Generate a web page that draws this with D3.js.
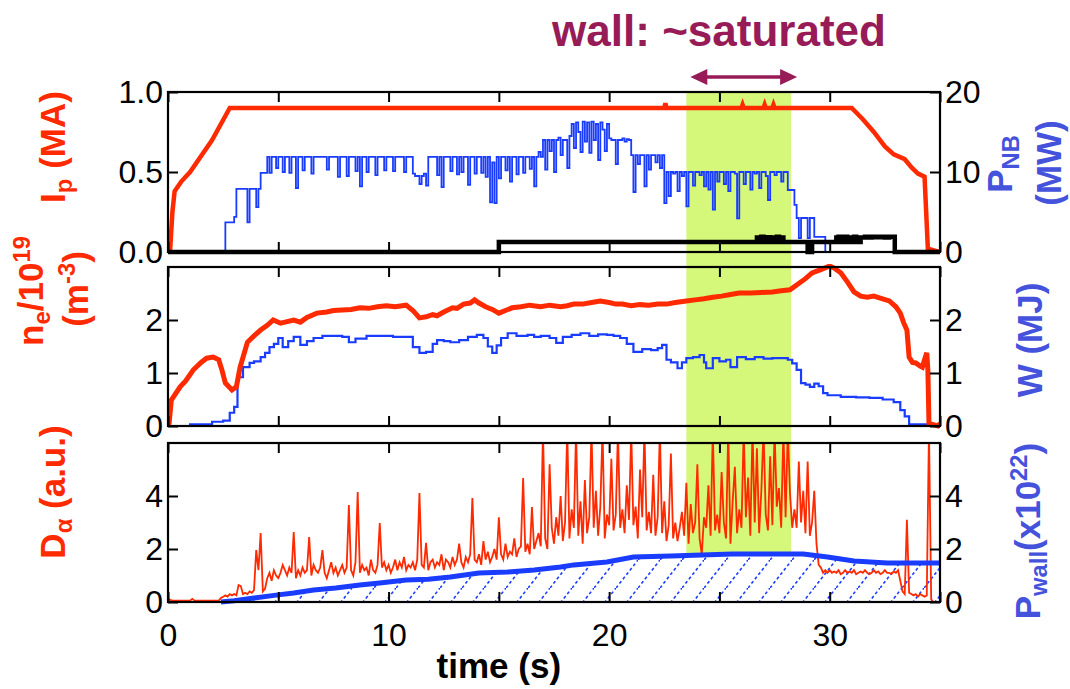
<!DOCTYPE html>
<html><head><meta charset="utf-8">
<script src="https://cdn.jsdelivr.net/npm/d3@7"></script>
<style>
body{margin:0;background:#fff}
svg text{font-family:"Liberation Sans",Arial,sans-serif}
</style>
</head><body>
<svg id="c" width="1070" height="689"></svg>
<script>
// ---------------- DATA ----------------
const timeTicksMajor = [0,10,20,30];
const timeTicksMinor = [0,5,10,15,20,25,30,35];
const ipTicks = [0,0.5,1.0];
const pnbTicks = [0,10,20];
const neTicks = [0,1,2];
const wTicks = [0,1,2];
const daTicks = [0,2,4];
const pwTicks = [0,2,4];
const satBand = [23.5, 28.25];
const titleText = "wall: ~saturated";

// plasma current Ip (MA) [t, value]
const ipData = [[0,0],[0.1,0.02],[0.2,0.25],[0.3,0.38],[0.6,0.44],[1.0,0.5],[2.0,0.7],[2.8,0.9],
 [22.5,0.9],[22.55,0.93],[22.6,0.9],[26.0,0.9],[26.05,0.92],[26.1,0.9],[27.0,0.9],[27.05,0.92],[27.1,0.9],
 [27.4,0.9],[27.45,0.92],[27.5,0.9],[31.0,0.9],[31.5,0.83],[32.0,0.75],[32.5,0.66],[32.9,0.61],[33.4,0.58],
 [33.7,0.53],[34.0,0.49],[34.3,0.47],[34.45,0.02],[35,0.0]];

// NBI power P_NB (MW), sampled every 0.1 s from t = 0
const pnbT0 = 0, pnbDt = 0.1;
const pnbValues = [
 0,0,0,0,0,0,0,0,0,0,
 0,0,0,0,0,0,0,0,0,0,
 0,0,0,0,0,0,3.7,3.7,3.7,3.7,
 4.4,7.9,7.9,7.9,7.9,7.9,3.7,7.9,7.9,7.9,
 5.6,7.9,9.9,9.9,9.9,11.9,9.9,11.9,11.9,10.5,
 11.9,11.9,10,11.9,11.9,9.9,11.9,11.9,8,11.9,
 11.9,10.2,11.9,11.9,11.9,9.8,11.9,11.9,11.9,11.9,
 11.9,11.9,10.3,11.9,11.9,11.9,11.9,9.4,11.9,11.9,
 11.9,9.5,11.9,11.9,11.9,10.1,11.9,8.2,11.9,11.9,
 10,11.9,11.9,11.9,9.6,11.9,11.9,11.9,10.2,11.9,
 11.9,11.9,10.1,11.9,11.9,11.9,11.9,10,11.9,11.9,
 11.9,9.8,9.5,9.5,8.5,9.5,9.8,8.3,11.9,11.9,
 11.9,11.9,9.6,11.9,8.1,11.9,11.9,11.9,10.1,11.9,
 11.9,9.7,11.9,10,11.9,11.9,8.4,11.9,11.9,9.8,
 11.9,11.9,9.9,11.9,9.4,11.9,6.2,11.2,6.1,11.9,
 9.2,11.9,11.9,10.2,11.9,8.8,11.9,11.9,9.7,11.9,
 11.9,9.9,11.9,11.9,10.4,11.9,8.2,11.9,12.5,11.9,
 14,10.3,14,12.6,14,10,14,14.3,12.1,14,
 14,10.5,14.5,16,13,16.2,15,12.5,16.3,13.8,
 16.2,12.4,16.3,14,16,11.5,16.2,15.3,12.6,16,
 14.2,14,14,11,14,14,14.2,13.8,14.1,14,
 12.1,7.5,12.1,11,12.1,12.1,8.2,12.1,10.3,12.1,
 12.1,11.2,12.1,10.5,12.1,6.1,10,7,10,9.8,
 10,7.6,10,9.5,10,5.7,10,10,8.3,10,
 10,9.6,10,8.2,10,7.8,10,5.3,10,8.8,
 10,10,8.5,10,7.6,10,10,9.8,4.2,10,
 10,8.5,10,10,7.8,10,9.8,10,8,10,
 10,9.5,6.5,10,10,9.6,10,10,8.8,10,
 10,7.75,7.75,7.75,5.9,4.25,1.75,4.25,4.25,4.25,
 1.75,4.25,4.25,1.9,1.9,1.9,1.9,1.9,0,0,
 0,0,0,0,0,0,0,0,0,0,
 0,0,0,0,0,0,0,0,0,0,
 0,0,0,0,0,0,0,0,0,0,
 0,0,0,0,0,0,0,0,0,0,
 0,0,0,0,0,0,0,0,0,0,
 0];

// black trace in top panel (MW, right axis) [t, value], step
const blackData = [[0,0],[15.0,1.25],[26.7,1.8],[26.8,1.25],[26.9,1.9],[27.0,1.6],[27.1,1.25],[27.2,1.85],
 [27.3,1.7],[27.4,1.25],[27.5,1.8],[27.6,1.9],[27.7,1.25],[27.8,1.8],[27.9,1.25],[29.0,0],[29.2,1.25],
 [30.3,1.8],[30.4,1.9],[30.5,1.25],[30.6,1.85],[30.7,1.9],[30.8,1.25],[31.0,1.8],[31.1,1.9],[31.2,1.25],
 [31.4,1.8],[31.6,1.9],[31.7,1.8],[31.9,1.9],[32.1,1.85],[32.3,1.9],[32.5,1.8],[32.7,1.9],[32.95,0],[35,0]];

// line-averaged density ne (10^19 m^-3) [t, value]
const neData = [[0,0],[0.05,0.05],[0.15,0.49],[0.55,0.74],[0.8,0.85],[1.15,1.06],[1.5,1.2],[1.75,1.28],
 [2.05,1.3],[2.3,1.25],[2.45,1.05],[2.6,0.81],[2.9,0.68],[3.1,0.74],[3.27,1.11],[3.6,1.58],[3.9,1.7],
 [4.2,1.81],[4.5,1.9],[4.77,2.0],[5.1,1.94],[5.4,1.97],[5.7,2.0],[6.0,1.96],[6.3,2.05],[6.75,2.13],
 [7.2,2.15],[7.5,2.18],[7.9,2.19],[8.3,2.2],[8.7,2.23],[9.1,2.22],[9.5,2.25],[9.9,2.27],[10.3,2.25],
 [10.8,2.28],[11.1,2.18],[11.4,2.04],[11.7,2.06],[12.0,2.1],[12.2,2.08],[12.5,2.15],[12.9,2.23],
 [13.1,2.22],[13.4,2.3],[13.7,2.32],[13.9,2.38],[14.1,2.32],[14.4,2.25],[14.7,2.2],[15.0,2.13],
 [15.3,2.18],[15.6,2.23],[16.0,2.25],[16.4,2.28],[16.9,2.25],[17.3,2.28],[17.8,2.25],[18.1,2.27],
 [18.4,2.3],[18.8,2.3],[19.2,2.33],[19.6,2.36],[20.0,2.33],[20.3,2.3],[20.6,2.3],[21.0,2.27],
 [21.4,2.29],[21.8,2.28],[22.2,2.3],[22.6,2.3],[23.0,2.33],[23.5,2.36],[23.9,2.38],[24.3,2.4],
 [24.7,2.43],[25.1,2.45],[25.5,2.48],[25.9,2.51],[26.4,2.51],[26.9,2.52],[27.4,2.53],[27.8,2.55],
 [28.2,2.57],[28.5,2.66],[28.9,2.78],[29.2,2.89],[29.6,2.95],[30.0,3.02],[30.2,2.98],[30.5,2.89],
 [30.8,2.72],[31.1,2.53],[31.4,2.45],[31.7,2.43],[32.0,2.45],[32.4,2.4],[32.7,2.36],[33.0,2.25],
 [33.2,2.13],[33.35,1.95],[33.5,1.81],[33.6,1.3],[33.75,1.2],[33.9,1.19],[34.1,1.13],[34.2,1.11],
 [34.3,1.25],[34.4,1.38],[34.45,1.06],[34.5,0.05],[34.9,0.0],[35,0.05]];

// stored energy W (MJ) [t, value]
const wData = [[0,0],[1.0,0.03],[2.0,0.08],[2.5,0.1],[2.8,0.25],[3.0,0.36],[3.15,0.92],[3.4,1.11],
 [3.7,1.19],[3.9,1.22],[4.2,1.3],[4.4,1.38],[4.6,1.49],[4.8,1.55],[5.0,1.66],[5.2,1.49],[5.45,1.6],
 [5.7,1.68],[6.0,1.53],[6.3,1.6],[6.6,1.66],[7.0,1.7],[7.4,1.7],[7.9,1.68],[8.2,1.58],[8.5,1.65],
 [9.0,1.7],[9.6,1.7],[10.2,1.68],[10.8,1.68],[11.1,1.49],[11.4,1.38],[11.7,1.40],[12.0,1.55],
 [12.2,1.62],[12.5,1.6],[12.8,1.58],[13.2,1.62],[13.6,1.68],[14.0,1.72],[14.3,1.66],[14.5,1.5],
 [14.7,1.38],[14.9,1.52],[15.1,1.66],[15.4,1.75],[15.8,1.7],[16.3,1.72],[16.6,1.68],[16.9,1.7],
 [17.3,1.66],[17.6,1.57],[17.9,1.68],[18.3,1.72],[18.7,1.75],[19.1,1.7],[19.5,1.73],[19.9,1.72],
 [20.2,1.7],[20.5,1.66],[20.8,1.55],[21.1,1.40],[21.5,1.45],[21.9,1.43],[22.2,1.47],[22.4,1.53],
 [22.6,1.25],[22.8,1.2],[23.1,1.09],[23.3,1.2],[23.5,1.28],[23.8,1.3],[24.1,1.34],[24.3,1.2],
 [24.4,1.09],[24.7,1.28],[25.0,1.22],[25.3,1.25],[25.5,1.11],[25.8,1.30],[26.2,1.26],[26.6,1.3],
 [27.0,1.27],[27.4,1.28],[27.8,1.28],[28.1,1.25],[28.3,1.18],[28.5,1.06],[28.7,0.81],[28.9,0.78],
 [29.1,0.74],[29.3,0.8],[29.5,0.75],[29.7,0.62],[29.9,0.58],[30.5,0.55],[31.2,0.54],[31.8,0.53],
 [32.4,0.5],[32.9,0.45],[33.2,0.3],[33.4,0.18],[33.6,0.03],[35,0.02]];

// D-alpha (a.u.), sampled every 0.1 s from t = 0
const daT0 = 0, daDt = 0.1;
const daValues = [
 0.12,0.08,0.05,0.05,0.05,0.05,0.05,0.05,0.05,0.05,
 0.05,0.12,0.05,0.05,0.05,0.05,0.05,0.05,0.05,0.05,
 0.05,0.05,0.05,0.05,0.15,0.2,0.25,0.2,0.3,0.25,
 0.3,0.25,0.64,0.6,0.3,0.35,0.3,0.4,0.35,0.45,
 1.96,1.2,2.6,0.4,0.5,0.9,1.1,0.8,1.2,1.0,
 0.9,1.1,1.4,1.2,1.0,1.3,1.1,2.64,0.9,1.2,
 1.0,1.3,1.1,1.2,2.45,1.0,1.4,1.2,1.1,1.3,
 1.96,1.1,0.9,1.2,1.5,1.1,1.3,1.0,1.2,1.4,
 1.1,1.3,3.66,1.2,1.0,1.5,4.15,1.1,1.4,1.2,
 1.3,1.0,1.6,1.2,1.1,1.4,2.98,1.3,1.5,1.2,
 1.4,1.1,1.3,1.6,1.2,1.5,1.3,1.7,1.2,1.4,
 1.3,1.5,1.2,1.6,4.11,1.4,1.3,2.23,1.2,1.5,
 1.6,1.3,1.5,1.4,1.8,1.2,1.6,1.5,1.3,1.7,
 1.4,1.6,2.2,1.5,1.3,1.7,1.5,1.8,3.92,1.6,
 1.5,1.8,1.4,2.3,1.6,1.9,1.5,1.7,2.0,1.6,
 3.2,1.8,1.6,2.2,1.7,1.9,1.8,2.4,1.7,2.0,
 2.1,4.68,1.9,2.2,1.8,3.58,2.0,2.3,2.6,2.1,
 6.5,2.4,2.0,5.2,2.8,2.2,3.2,2.5,4.0,2.3,
 3.0,6.5,2.4,3.5,2.8,6.5,2.5,3.8,2.2,4.6,
 2.6,3.2,6.5,2.8,4.2,2.5,3.6,6.5,2.4,3.3,
 2.9,5.4,2.7,3.3,6.5,2.8,3.5,2.6,4.4,3.1,
 6.5,2.9,3.6,2.4,5.0,3.2,6.5,2.7,3.4,2.6,
 4.8,2.5,3.2,6.5,2.6,3.8,2.3,2.9,5.6,2.4,
 3.0,2.3,2.8,3.4,2.5,4.5,2.2,3.7,2.6,3.0,
 5.2,2.4,1.8,3.2,2.8,4.4,2.5,6.5,2.7,3.3,
 2.6,4.9,3.0,2.4,6.5,2.2,3.8,5.1,2.6,3.5,
 2.8,6.5,3.2,4.7,2.5,6.5,3.0,5.8,2.6,4.2,
 6.5,3.3,2.7,5.5,2.9,6.5,3.6,4.3,2.8,6.5,
 3.2,6.5,4.1,2.8,3.5,2.8,5.3,3.0,4.2,2.6,
 5.3,2.5,3.0,4.2,2.2,1.4,1.3,1.1,1.2,1.1,
 1.2,1.1,1.15,1.1,1.2,1.05,1.1,1.2,1.1,1.15,
 1.1,1.2,1.05,1.1,1.15,1.1,1.2,1.1,1.05,1.1,
 1.2,1.1,1.15,1.05,1.1,1.2,1.1,1.1,1.05,1.15,
 1.1,1.2,0.8,0.4,0.3,3.1,0.35,0.3,0.25,0.3,
 0.2,0.3,0.25,0.2,0.25,6.5,0.1,0.0,0.0,0.0,
 0.0];

// wall-retained particles P_wall (x10^22) [t, value]
const pwData = [[2.4,0],[3.0,0.05],[3.9,0.15],[4.9,0.26],[5.7,0.34],[6.6,0.45],[7.6,0.53],[8.7,0.64],
 [9.6,0.72],[10.8,0.83],[11.8,0.86],[12.8,0.94],[14.1,1.09],[15.4,1.13],[16.6,1.21],[17.8,1.32],
 [18.4,1.4],[19.9,1.51],[21.1,1.70],[22.8,1.74],[25.6,1.81],[28.8,1.81],[29.9,1.70],[31.1,1.55],
 [32.6,1.47],[35,1.47]];

// ---------------- STYLE ----------------
const RED = "#ff2a00", BLUE = "#1a3cff", LBLUE = "#4452dc", BAND = "#d5f77a", TITLE = "#971b57";
const svg = d3.select("#c");
const W0 = 168, W1 = 940;
const x = d3.scaleLinear().domain([0,35]).range([W0,W1]);
const P = {
  top: {y0:252, y1:92},
  mid: {y0:426, y1:267},
  bot: {y0:602, y1:443}
};
const yIp = d3.scaleLinear().domain([0,1]).range([P.top.y0,P.top.y1]);
const yPnb = d3.scaleLinear().domain([0,20]).range([P.top.y0,P.top.y1]);
const yNe = d3.scaleLinear().domain([0,3]).range([P.mid.y0,P.mid.y1]);
const yW = d3.scaleLinear().domain([0,3]).range([P.mid.y0,P.mid.y1]);
const yDa = d3.scaleLinear().domain([0,6]).range([P.bot.y0,P.bot.y1]);
const yPw = d3.scaleLinear().domain([0,6]).range([P.bot.y0,P.bot.y1]);

const pnbData = pnbValues.map((v,i)=>[pnbT0+i*pnbDt, v]);
const daData = daValues.map((v,i)=>[daT0+i*daDt, v]);

const defs = svg.append("defs");
function clip(id, y1, y0){
  defs.append("clipPath").attr("id",id).append("rect")
    .attr("x",W0).attr("y",y1).attr("width",W1-W0).attr("height",y0-y1);
}
clip("clipTop", P.top.y1-3, P.top.y0+3);
clip("clipMid", P.mid.y1-3, P.mid.y0+3);
clip("clipBot", P.bot.y1, P.bot.y0+3);

const pat = defs.append("pattern").attr("id","hatch").attr("patternUnits","userSpaceOnUse")
  .attr("width",22).attr("height",28);
pat.append("path").attr("d","M0,28 L22,0").attr("stroke",BLUE).attr("stroke-width",1.6)
  .attr("stroke-dasharray","3,2.6").attr("fill","none");

// saturation band
svg.append("rect").attr("x",x(satBand[0])).attr("width",x(satBand[1])-x(satBand[0]))
  .attr("y",P.top.y1).attr("height",P.bot.y0-P.top.y1).attr("fill",BAND);

function drawLine(data, ys, color, width, clipId, curve){
  svg.append("path").datum(data)
    .attr("clip-path",`url(#${clipId})`)
    .attr("d", d3.line().x(d=>x(d[0])).y(d=>ys(d[1])).curve(curve||d3.curveLinear))
    .attr("fill","none").attr("stroke",color).attr("stroke-width",width)
    .attr("stroke-linejoin","miter").attr("stroke-linecap","butt");
}

// top panel
drawLine(pnbData, yPnb, BLUE, 1.8, "clipTop", d3.curveStepAfter);
drawLine(ipData, yIp, RED, 4.5, "clipTop");
drawLine(blackData, yPnb, "#000", 4.5, "clipTop", d3.curveStepAfter);

// middle panel
drawLine(wData, yW, BLUE, 2.2, "clipMid", d3.curveStepAfter);
drawLine(neData, yNe, RED, 5, "clipMid");

// bottom panel
const area = d3.area().x(d=>x(d[0])).y0(yPw(0)).y1(d=>yPw(d[1]));
svg.append("path").datum(pwData).attr("d",area).attr("fill","#fff").attr("clip-path","url(#clipBot)");
svg.append("path").datum(pwData).attr("d",area).attr("fill","url(#hatch)").attr("clip-path","url(#clipBot)");
drawLine(daData, yDa, RED, 1.8, "clipBot");
drawLine(pwData, yPw, BLUE, 5, "clipBot");

// frames and axes
const fmtNone = () => "";
function styleAxis(g, labelSize){
  g.select(".domain").remove();
  g.selectAll(".tick line").attr("stroke","#000").attr("stroke-width",2);
  g.selectAll(".tick text").attr("font-size",labelSize||32).attr("fill","#000")
   .style("font-family","'Liberation Sans',Arial,sans-serif");
}
function panelAxes(p, yl, yr, lt, rt, lfmt, rfmt, bottomLabels){
  svg.append("rect").attr("x",W0).attr("y",p.y1).attr("width",W1-W0).attr("height",p.y0-p.y1)
    .attr("fill","none").attr("stroke","#000").attr("stroke-width",2.2);
  const gb = svg.append("g").attr("transform",`translate(0,${p.y0})`)
    .call(d3.axisBottom(x).tickValues(timeTicksMinor).tickSize(-10).tickPadding(21)
      .tickFormat(bottomLabels ? (d => timeTicksMajor.includes(d) ? d : "") : fmtNone));
  styleAxis(gb);
  const gt = svg.append("g").attr("transform",`translate(0,${p.y1})`)
    .call(d3.axisTop(x).tickValues(timeTicksMinor).tickSize(-10).tickFormat(fmtNone));
  styleAxis(gt);
  const gl = svg.append("g").attr("transform",`translate(${W0},0)`)
    .call(d3.axisLeft(yl).tickValues(lt).tickSize(-10).tickPadding(5).tickFormat(lfmt));
  styleAxis(gl);
  const gr = svg.append("g").attr("transform",`translate(${W1},0)`)
    .call(d3.axisRight(yr).tickValues(rt).tickSize(-10).tickPadding(5).tickFormat(rfmt));
  styleAxis(gr);
}
panelAxes(P.top, yIp, yPnb, ipTicks, pnbTicks, d3.format(".1f"), d3.format("d"), false);
panelAxes(P.mid, yNe, yW, neTicks, wTicks, d3.format("d"), d3.format("d"), false);
panelAxes(P.bot, yDa, yPw, daTicks, pwTicks, d3.format("d"), d3.format("d"), true);

// axis title
svg.append("text").attr("x",x(15)).attr("y",678).attr("text-anchor","middle")
  .attr("font-size",35).attr("font-weight","bold").attr("fill","#000").text("time (s)");

// rotated labels
function rlabel(xp, yp, color, parts, size){
  const t = svg.append("text").attr("transform",`translate(${xp},${yp}) rotate(-90)`)
    .attr("text-anchor","middle").attr("font-size",size||35).attr("font-weight","bold").attr("fill",color);
  let shift = 0;
  parts.forEach(p=>{
    const s = t.append("tspan").text(p.t);
    const target = p.sub ? 7 : p.sup ? -13 : 0;
    if (target !== shift) { s.attr("dy", target - shift); shift = target; }
    if (p.sub || p.sup) s.attr("font-size", (size||35)*0.68);
  });
}
rlabel(65, 147, RED, [{t:"I"},{t:"p",sub:1},{t:" (MA)"}]);
rlabel(43, 291, RED, [{t:"n"},{t:"e",sub:1},{t:"/10"},{t:"19",sup:1}]);
rlabel(88, 289, RED, [{t:"(m"},{t:"-3",sup:1},{t:")"}]);
rlabel(65, 492, RED, [{t:"D"},{t:"α",sub:1},{t:" (a.u.)"}]);
rlabel(1012, 164, LBLUE, [{t:"P"},{t:"NB",sub:1}]);
rlabel(1061, 163, LBLUE, [{t:"(MW)"}]);
rlabel(1042, 340, LBLUE, [{t:"W (MJ)"}]);
rlabel(1040, 531, LBLUE, [{t:"P"},{t:"wall",sub:1},{t:"(x10"},{t:"22",sup:1},{t:")"}]);

// title + arrow
svg.append("text").attr("x",719).attr("y",46).attr("text-anchor","middle")
  .attr("font-size",44).attr("font-weight","bold").attr("fill",TITLE).text(titleText);
const ax0 = x(satBand[0]) + 4, ax1 = x(satBand[1]) + 6, ay = 77;
svg.append("line").attr("x1",ax0+10).attr("x2",ax1-10).attr("y1",ay).attr("y2",ay)
  .attr("stroke",TITLE).attr("stroke-width",3.5);
svg.append("path").attr("d",`M${ax0},${ay} L${ax0+17},${ay-8} L${ax0+17},${ay+8} Z`).attr("fill",TITLE);
svg.append("path").attr("d",`M${ax1},${ay} L${ax1-17},${ay-8} L${ax1-17},${ay+8} Z`).attr("fill",TITLE);
</script>
</body></html>
